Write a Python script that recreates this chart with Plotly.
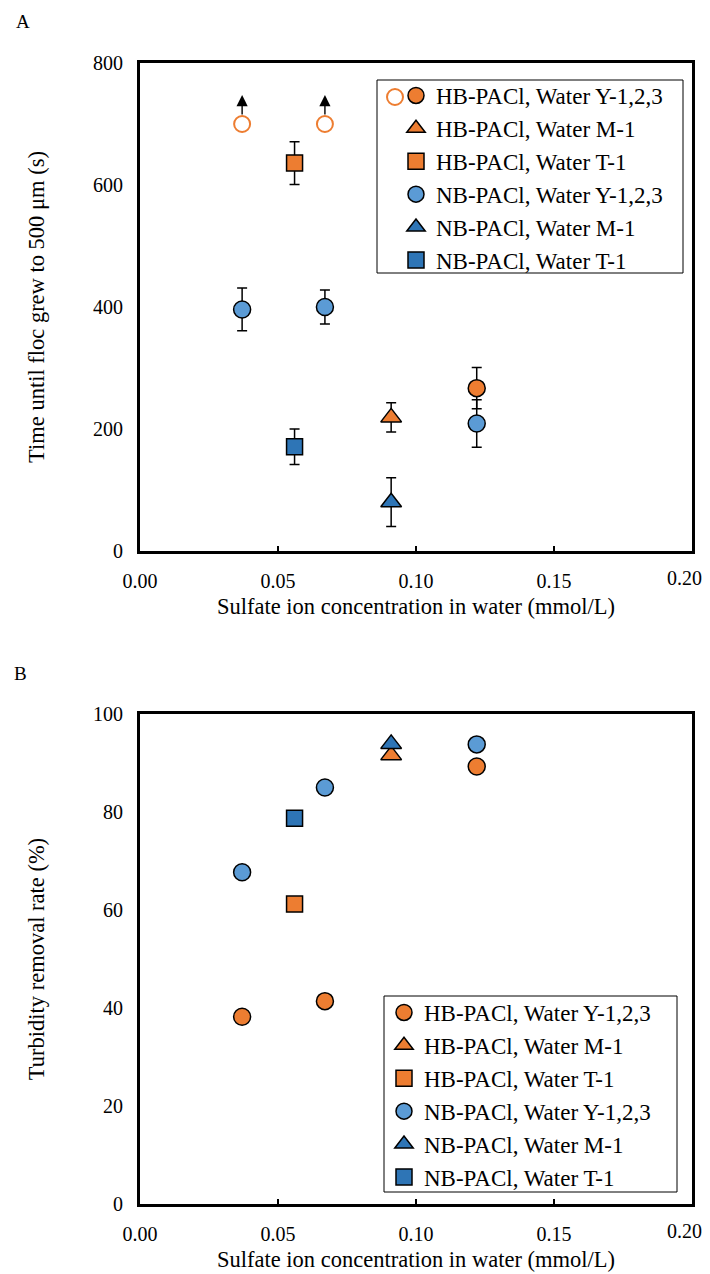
import plotly.graph_objects as go

ORANGE = "#ED7D31"
LBLUE = "#5B9BD5"
DBLUE = "#2E75B6"
FONT = "Liberation Serif"

# ---- data (sulfate ion concentration, mmol/L) ----
x_water_y = [0.037, 0.067, 0.122]
x_water_m = [0.091]
x_water_t = [0.056]

# Panel A: time until floc grew to 500 um (s)
hb_y_open_x = [0.037, 0.067]
hb_y_open_time = [700, 700]          # did not reach 500 um (> 700 s)
hb_y_time_x = [0.122]
hb_y_time = [267]
hb_y_time_err = [34]
hb_m_time = [219]
hb_m_time_err = [24]
hb_t_time = [636]
hb_t_time_err = [35]
nb_y_time = [396, 400, 209]
nb_y_time_err = [35, 28, 39]
nb_m_time = [80]
nb_m_time_err = [40]
nb_t_time = [171]
nb_t_time_err = [29]

# Panel B: turbidity removal rate (%)
hb_y_rem = [38.2, 41.4, 89.3]
hb_m_rem = [91.6]
hb_t_rem = [61.2]
nb_y_rem = [67.7, 85.0, 93.8]
nb_m_rem = [93.9]
nb_t_rem = [78.7]

x_tickvals = [0.0, 0.05, 0.10, 0.15, 0.20]
x_ticktext = ["0.00", "0.05", "0.10", "0.15", "0.20"]

names = ["HB-PACl, Water Y-1,2,3", "HB-PACl, Water M-1", "HB-PACl, Water T-1",
         "NB-PACl, Water Y-1,2,3", "NB-PACl, Water M-1", "NB-PACl, Water T-1"]
symbols = ["circle", "triangle-up", "square", "circle", "triangle-up", "square"]
colors = [ORANGE, ORANGE, ORANGE, LBLUE, DBLUE, DBLUE]
sizes = [17, 18, 16, 17, 18, 16]

# page body has an 8px margin: figure starts 8px in from the window edge
OFF = 8
W, H = 710 - OFF, 1274 - OFF
def px_x(p):
    return (p - OFF) / W
def px_y(p):
    return 1 - (p - OFF) / H

fig = go.Figure()

# ---- Panel A ----
fig.add_trace(go.Scatter(
    x=hb_y_open_x, y=hb_y_open_time, mode="markers", showlegend=False,
    marker=dict(symbol="circle", size=16, color="white", line=dict(color=ORANGE, width=2)),
    xaxis="x", yaxis="y"))

panelA = [
    (hb_y_time_x, hb_y_time, hb_y_time_err),
    (x_water_m, hb_m_time, hb_m_time_err),
    (x_water_t, hb_t_time, hb_t_time_err),
    (x_water_y, nb_y_time, nb_y_time_err),
    (x_water_m, nb_m_time, nb_m_time_err),
    (x_water_t, nb_t_time, nb_t_time_err),
]
for i, (xs, ys, es) in enumerate(panelA):
    fig.add_trace(go.Scatter(
        x=xs, y=ys, mode="markers", name=names[i], legend="legend",
        marker=dict(symbol=symbols[i], size=sizes[i], color=colors[i],
                    line=dict(color="black", width=1.5)),
        error_y=dict(type="data", array=es, visible=True, color="black",
                     thickness=1.5, width=5),
        xaxis="x", yaxis="y"))

# ---- Panel B ----
panelB = [
    (x_water_y, hb_y_rem), (x_water_m, hb_m_rem), (x_water_t, hb_t_rem),
    (x_water_y, nb_y_rem), (x_water_m, nb_m_rem), (x_water_t, nb_t_rem),
]
for i, (xs, ys) in enumerate(panelB):
    fig.add_trace(go.Scatter(
        x=xs, y=ys, mode="markers", name=names[i], legend="legend2",
        marker=dict(symbol=symbols[i], size=sizes[i], color=colors[i],
                    line=dict(color="black", width=1.5)),
        xaxis="x2", yaxis="y2"))

# arrows above open circles
for xv, yv in zip(hb_y_open_x, hb_y_open_time):
    fig.add_annotation(x=xv, y=yv, xref="x", yref="y", text="", showarrow=True,
                       ax=0, ay=21, yshift=29, arrowhead=2, arrowsize=1.6,
                       arrowwidth=1.4, arrowcolor="black")

tickfont = dict(family=FONT, size=20, color="black")
axis_common = dict(showline=True, linewidth=3, linecolor="black", mirror=True,
                   showgrid=False, zeroline=False, automargin=False,
                   ticklabeloverflow="allow", tickfont=tickfont)
xaxis_common = dict(axis_common, range=[0, 0.2], tickmode="array",
                    tickvals=x_tickvals, ticktext=x_ticktext[:-1] + [""],
                    ticks="inside", ticklen=5, tickwidth=1.5, tickcolor="black",
                    ticklabelstandoff=10, domain=[px_x(140), px_x(692)],
                    title=dict(text="Sulfate ion concentration in water (mmol/L)",
                               font=dict(family=FONT, size=22.5, color="black"), standoff=8))

legend_common = dict(xanchor="left", yanchor="top", borderwidth=0,
                     bgcolor="rgba(0,0,0,0)", font=dict(family=FONT, size=23, color="black"))

fig.update_layout(
    width=W, height=H, margin=dict(l=0, r=0, t=0, b=0, autoexpand=False),
    paper_bgcolor="white", plot_bgcolor="white",
    font=dict(family=FONT, color="black"),
    xaxis=dict(xaxis_common, anchor="y"),
    yaxis=dict(axis_common, range=[0, 800], dtick=200, ticks="", anchor="x",
               ticklabelstandoff=10,
               domain=[px_y(551), px_y(63)],
               title=dict(text="Time until floc grew to 500 μm (s)",
                          font=dict(family=FONT, size=22.5, color="black"), standoff=43)),
    xaxis2=dict(xaxis_common, anchor="y2"),
    yaxis2=dict(axis_common, range=[0, 100], dtick=20, ticks="", anchor="x2",
                ticklabelstandoff=10,
                domain=[px_y(1204), px_y(714)],
                title=dict(text="Turbidity removal rate (%)",
                           font=dict(family=FONT, size=22.5, color="black"), standoff=43)),
    legend=dict(legend_common, x=px_x(396), y=px_y(74)),
    legend2=dict(legend_common, x=px_x(384), y=px_y(991)),
)

# last x tick label of each panel, nudged left so it stays inside the window
for xr, yr in (("x", "y"), ("x2", "y2")):
    fig.add_annotation(text=x_ticktext[-1], x=x_tickvals[-1], y=0, xref=xr, yref=yr,
                       xanchor="center", yanchor="middle", xshift=-8, yshift=-27,
                       showarrow=False, font=tickfont)

# legend frames
fig.add_shape(type="rect", xref="paper", yref="paper", layer="below",
              x0=px_x(377), x1=px_x(683), y0=px_y(273), y1=px_y(80),
              line=dict(color="black", width=1), fillcolor="white")
fig.add_shape(type="rect", xref="paper", yref="paper", layer="below",
              x0=px_x(384), x1=px_x(677), y0=px_y(1192), y1=px_y(996),
              line=dict(color="black", width=1), fillcolor="white")

# open-circle symbol in legend A (first row)
fig.add_shape(type="circle", xref="paper", yref="paper",
              x0=px_x(387), x1=px_x(403), y0=px_y(105), y1=px_y(89),
              line=dict(color=ORANGE, width=2), fillcolor="white")

fig.add_annotation(text="A", xref="paper", yref="paper", x=px_x(14), y=px_y(8.5),
                   xanchor="left", yanchor="top", showarrow=False,
                   font=dict(family=FONT, size=19, color="black"))
fig.add_annotation(text="B", xref="paper", yref="paper", x=px_x(12), y=px_y(673),
                   xanchor="left", yanchor="middle", showarrow=False,
                   font=dict(family=FONT, size=19, color="black"))

fig.write_html("out.html")
